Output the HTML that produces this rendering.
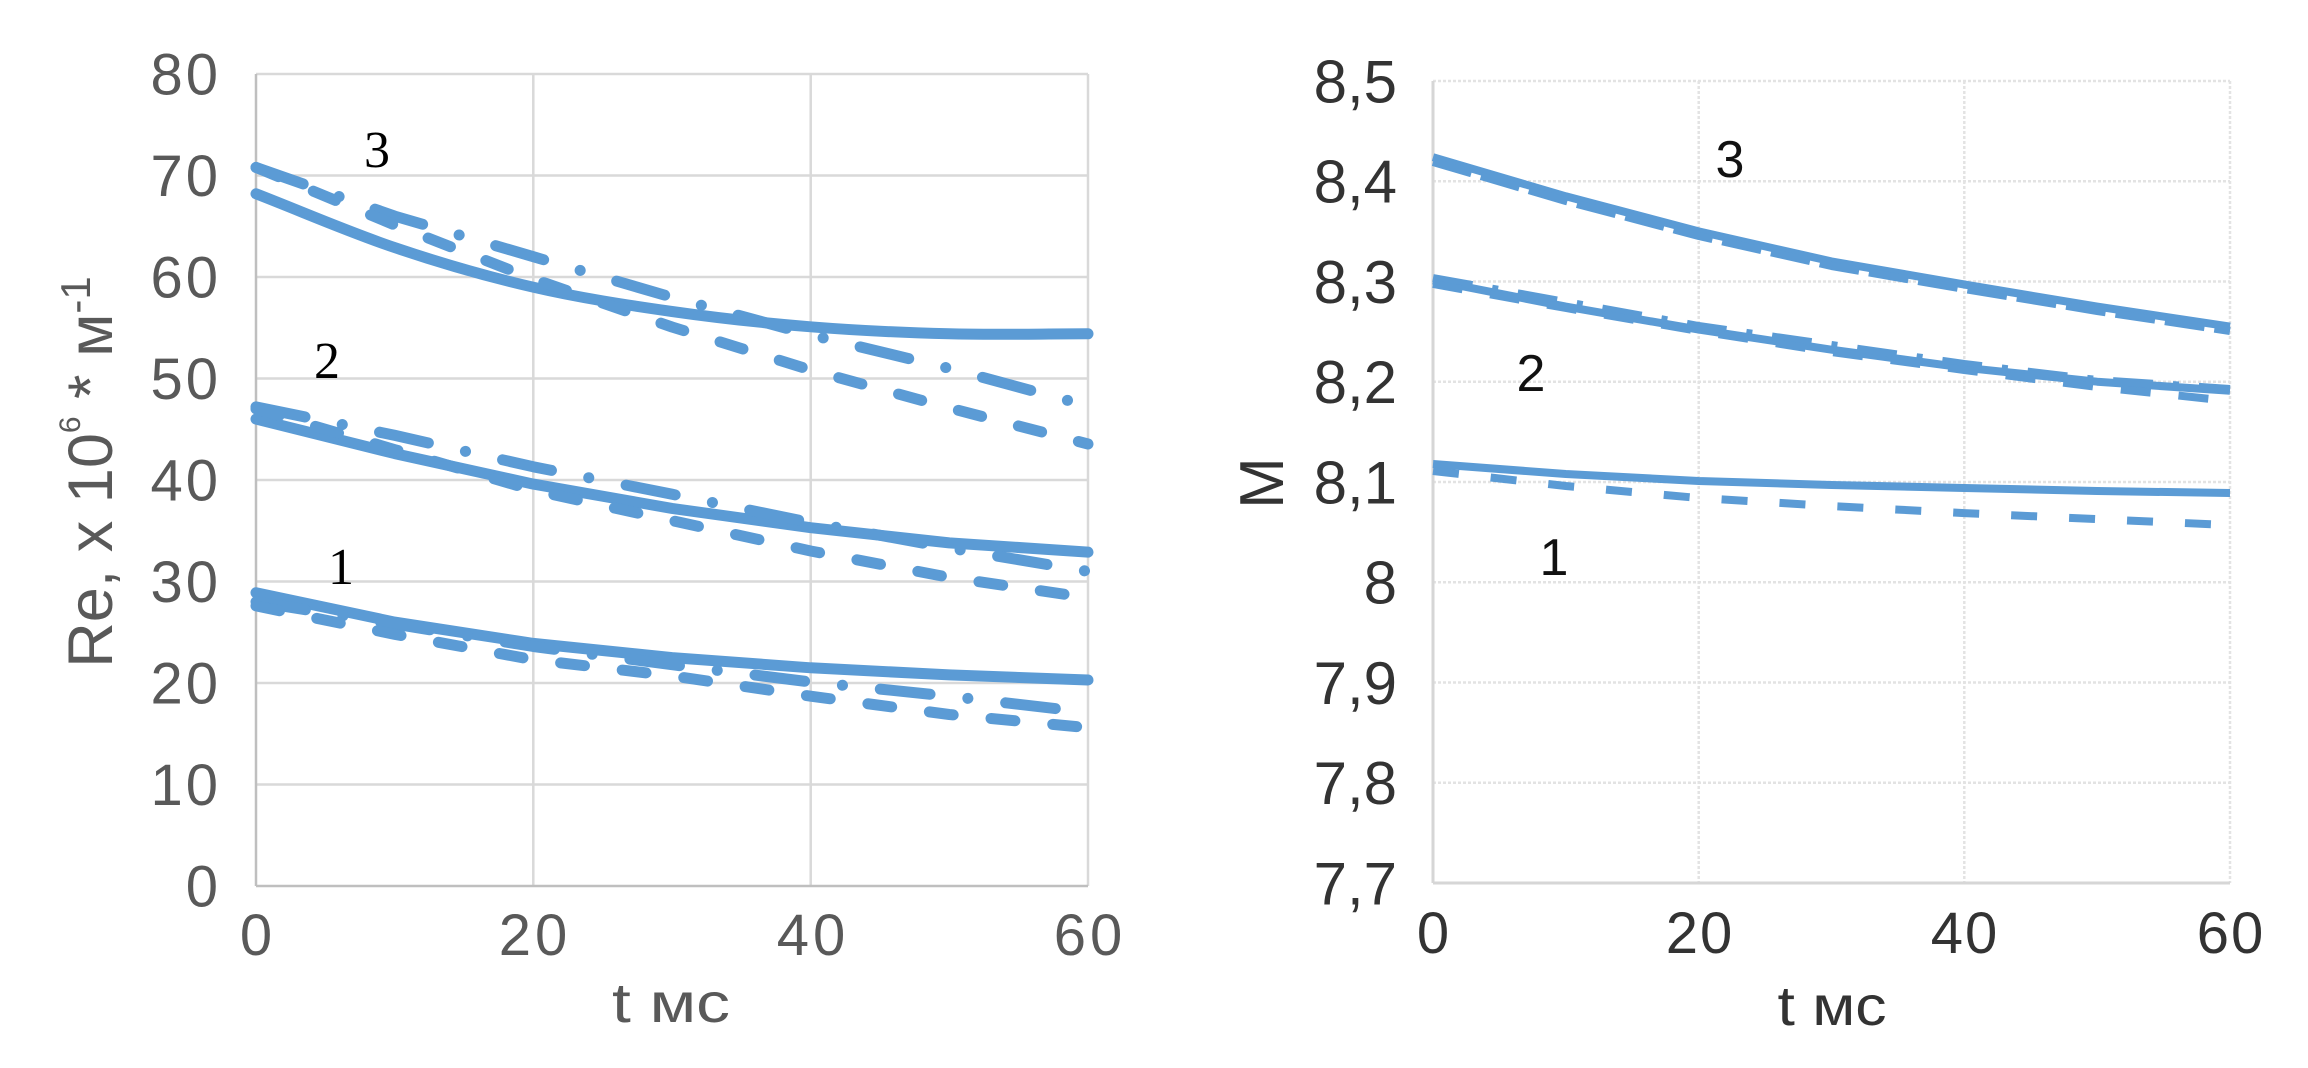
<!DOCTYPE html>
<html>
<head>
<meta charset="utf-8">
<style>
  html,body{margin:0;padding:0;background:#fff;}
  svg{display:block;}
</style>
</head>
<body>
<svg width="2308" height="1068" viewBox="0 0 2308 1068" xmlns="http://www.w3.org/2000/svg">
  <rect width="2308" height="1068" fill="#ffffff"/>

  <!-- ================= LEFT CHART ================= -->
  <g stroke="#d9d9d9" stroke-width="2.5" fill="none">
    <line x1="256" y1="74" x2="1088" y2="74"/>
    <line x1="256" y1="175.5" x2="1088" y2="175.5"/>
    <line x1="256" y1="277" x2="1088" y2="277"/>
    <line x1="256" y1="378.5" x2="1088" y2="378.5"/>
    <line x1="256" y1="480" x2="1088" y2="480"/>
    <line x1="256" y1="581.5" x2="1088" y2="581.5"/>
    <line x1="256" y1="683" x2="1088" y2="683"/>
    <line x1="256" y1="784.5" x2="1088" y2="784.5"/>
    <line x1="533.3" y1="74" x2="533.3" y2="886"/>
    <line x1="810.7" y1="74" x2="810.7" y2="886"/>
    <line x1="1088" y1="74" x2="1088" y2="886"/>
  </g>
  <g stroke="#bfbfbf" stroke-width="2.5">
    <line x1="256" y1="74" x2="256" y2="886"/>
    <line x1="256" y1="886" x2="1088" y2="886"/>
  </g>

  <g fill="none" stroke="#5b9bd5" stroke-width="11" stroke-linejoin="round">
    <!-- curve 3 -->
    <path stroke-linecap="round" d="M256,193.8 C302.2,211.7 348.4,232.0 394.7,247.6 C440.9,263.2 487.1,276.6 533.3,287.2 C579.6,297.9 625.8,304.9 672,311.5 C718.2,318.1 764.4,323.1 810.7,326.8 C856.9,330.5 903.1,332.6 949.3,333.8 C995.6,335.0 1041.8,333.8 1088,333.8"/>
    <polyline stroke-linecap="round" stroke-dasharray="50 38 0.1 38" points="256,167.4 394.7,216.1 533.3,256.7 672,297.3 810.7,334.9 949.3,368.4 1088,405.9"/>
    <polyline stroke-linecap="round" stroke-dasharray="24 38" points="256,167.4 394.7,225 533.3,279 672,327 810.7,370 949.3,408 1088,444"/>
    <!-- curve 2 -->
    <polyline stroke-linecap="round" points="256,419.1 394.7,453.6 533.3,484.1 672,508.4 810.7,527.7 949.3,542.9 1088,552.1"/>
    <polyline stroke-linecap="round" stroke-dasharray="50 38 0.1 38" points="256,406.9 394.7,435.3 533.3,466.8 672,494.2 810.7,522.6 949.3,548 1088,571.4"/>
    <polyline stroke-linecap="round" stroke-dasharray="24 38" points="256,408.9 394.7,449.6 533.3,490.2 672,520.6 810.7,551 949.3,577.4 1088,597.7"/>
    <!-- curve 1 -->
    <polyline stroke-linecap="round" points="256,592.7 394.7,622.1 533.3,643.4 672,657.6 810.7,667.8 949.3,674.9 1088,680"/>
    <polyline stroke-linecap="round" stroke-dasharray="50 38 0.1 38" points="256,601.8 394.7,624.1 533.3,646.5 672,664.7 810.7,682 949.3,696.2 1088,712.4"/>
    <polyline stroke-linecap="round" stroke-dasharray="24 38" points="256,605.9 394.7,634.3 533.3,659.7 672,675.9 810.7,696.2 949.3,714.5 1088,727.7"/>
  </g>

  <!-- left y tick labels -->
  <g font-family="'Liberation Sans', sans-serif" font-size="58" fill="#595959" text-anchor="end" letter-spacing="3">
    <text x="221" y="94.5">80</text>
    <text x="221" y="196">70</text>
    <text x="221" y="297.5">60</text>
    <text x="221" y="399">50</text>
    <text x="221" y="500.5">40</text>
    <text x="221" y="602">30</text>
    <text x="221" y="703.5">20</text>
    <text x="221" y="805">10</text>
    <text x="221" y="906.5">0</text>
  </g>
  <!-- left x tick labels -->
  <g font-family="'Liberation Sans', sans-serif" font-size="58" fill="#595959" text-anchor="middle" letter-spacing="4">
    <text x="258" y="955">0</text>
    <text x="535" y="955">20</text>
    <text x="813" y="955">40</text>
    <text x="1090" y="955">60</text>
  </g>
  <text x="671" y="1022" font-family="'Liberation Sans', sans-serif" font-size="56" fill="#595959" text-anchor="middle" textLength="118" lengthAdjust="spacingAndGlyphs">t мс</text>
  <text transform="translate(112,472) rotate(-90)" font-family="'Liberation Sans', sans-serif" font-size="63" fill="#595959" text-anchor="middle">Re, x 10<tspan dy="-32" font-size="30">6</tspan><tspan dy="32"> * м</tspan><tspan dy="-22" font-size="42">-1</tspan></text>

  <!-- left series labels -->
  <g font-family="'Liberation Serif', serif" font-size="52" fill="#000">
    <text x="377" y="167" text-anchor="middle">3</text>
    <text x="327" y="378" text-anchor="middle">2</text>
    <text x="341" y="584" text-anchor="middle">1</text>
  </g>

  <!-- ================= RIGHT CHART ================= -->
  <g stroke="#e3e3e3" stroke-width="2.5" fill="none" stroke-dasharray="3 2">
    <line x1="1433" y1="81" x2="2230" y2="81"/>
    <line x1="1433" y1="181.25" x2="2230" y2="181.25"/>
    <line x1="1433" y1="281.5" x2="2230" y2="281.5"/>
    <line x1="1433" y1="381.75" x2="2230" y2="381.75"/>
    <line x1="1433" y1="482" x2="2230" y2="482"/>
    <line x1="1433" y1="582.25" x2="2230" y2="582.25"/>
    <line x1="1433" y1="682.5" x2="2230" y2="682.5"/>
    <line x1="1433" y1="782.75" x2="2230" y2="782.75"/>
    <line x1="1698.7" y1="81" x2="1698.7" y2="883"/>
    <line x1="1964.3" y1="81" x2="1964.3" y2="883"/>
    <line x1="2230" y1="81" x2="2230" y2="883"/>
  </g>
  <g stroke="#d6d6d6" stroke-width="3">
    <line x1="1433" y1="81" x2="1433" y2="883"/>
    <line x1="1433" y1="883" x2="2230" y2="883"/>
  </g>

  <g fill="none" stroke="#5b9bd5" stroke-width="8" stroke-linejoin="round">
    <!-- curve 3 -->
    <polyline points="1433,157.2 1565.8,196.3 1698.7,231.4 1831.5,261.4 1964.3,284.5 2097.2,306.6 2230,326.6"/>
    <polyline stroke-dasharray="40 10" points="1433,162 1565.8,201 1698.7,236 1831.5,266 1964.3,289 2097.2,311 2230,331"/>
    <!-- curve 2 -->
    <polyline points="1433,280.5 1565.8,306.6 1698.7,329.6 1831.5,349.7 1964.3,367.7 2097.2,381.7 2230,390.8"/>
    <polyline stroke-dasharray="40 20 6 20" points="1433,278 1565.8,302 1698.7,326 1831.5,345 1964.3,364 2097.2,380 2230,389"/>
    <polyline stroke-dasharray="30 28" points="1433,284 1565.8,308 1698.7,331 1831.5,352 1964.3,370 2097.2,387 2230,401"/>
    <!-- curve 1 -->
    <polyline points="1433,464 1565.8,474 1698.7,481 1831.5,485 1964.3,488 2097.2,491 2230,493"/>
    <polyline stroke-dasharray="26 32" points="1433,471 1565.8,486 1698.7,498 1831.5,506.1 1964.3,513.1 2097.2,519.1 2230,525.1"/>
  </g>

  <!-- right y tick labels -->
  <g font-family="'Liberation Sans', sans-serif" font-size="60" fill="#333333" text-anchor="end">
    <text x="1397" y="102.5">8,5</text>
    <text x="1397" y="202.5">8,4</text>
    <text x="1397" y="303">8,3</text>
    <text x="1397" y="403">8,2</text>
    <text x="1397" y="503.5">8,1</text>
    <text x="1397" y="603.5">8</text>
    <text x="1397" y="704">7,9</text>
    <text x="1397" y="804">7,8</text>
    <text x="1397" y="904.5">7,7</text>
  </g>
  <!-- right x tick labels -->
  <g font-family="'Liberation Sans', sans-serif" font-size="58" fill="#333333" text-anchor="middle" letter-spacing="2">
    <text x="1434" y="953">0</text>
    <text x="1700" y="953">20</text>
    <text x="1965" y="953">40</text>
    <text x="2231" y="953">60</text>
  </g>
  <text x="1832" y="1025" font-family="'Liberation Sans', sans-serif" font-size="56" fill="#333333" text-anchor="middle" textLength="109" lengthAdjust="spacingAndGlyphs">t мс</text>
  <text transform="translate(1283,483) rotate(-90)" font-family="'Liberation Sans', sans-serif" font-size="62" fill="#333333" text-anchor="middle">M</text>

  <!-- right series labels -->
  <g font-family="'Liberation Sans', sans-serif" font-size="52" fill="#111">
    <text x="1730" y="177" text-anchor="middle">3</text>
    <text x="1531" y="391" text-anchor="middle">2</text>
    <text x="1554" y="575" text-anchor="middle">1</text>
  </g>
</svg>
</body>
</html>
